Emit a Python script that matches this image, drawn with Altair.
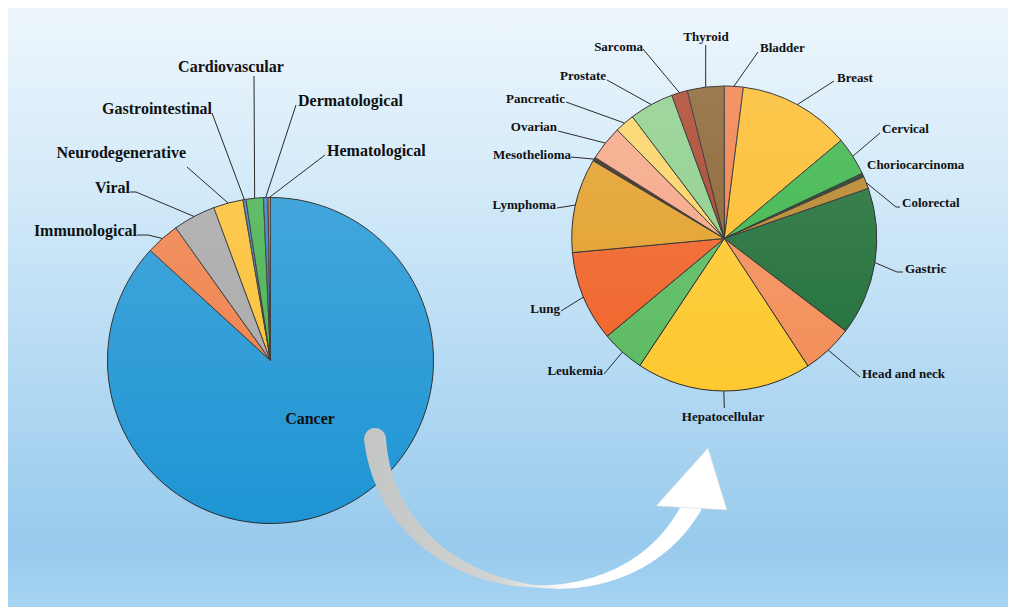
import numpy as np
import pandas as pd
import altair as alt

# ---------------- data ----------------
left_names = ["Cancer", "Immunological", "Viral", "Neurodegenerative", "Gastrointestinal",
              "Cardiovascular", "Dermatological", "Hematological"]
left_values = [86.8, 3.33, 4.22, 2.94, 0.30, 1.72, 0.44, 0.25]
left_colors = ["#1e95d4", "#ef7d45", "#a6a6a6", "#fcbf30", "#3f78c4", "#43b04c", "#2e7ec6", "#d9532b"]

right_names = ["Bladder", "Breast", "Cervical", "Choriocarcinoma", "Colorectal", "Gastric",
               "Head and neck", "Hepatocellular", "Leukemia", "Lung", "Lymphoma", "Mesothelioma",
               "Ovarian", "Pancreatic", "Prostate", "Sarcoma", "Thyroid"]
right_values = [2.0, 11.9, 4.1, 0.4, 1.3, 15.7, 5.4, 18.6, 4.6, 9.6, 10.0, 0.4, 3.7, 2.1, 4.7, 1.7, 3.9]
right_colors = ["#f2804a", "#fdbd2d", "#3db64b", "#1f3d1f", "#b8862c", "#22703a", "#f38f5a",
                "#fec930", "#5cbb62", "#f0642a", "#e3a02b", "#3a2a1a", "#f6a787", "#fcd465",
                "#8ecf8c", "#a9442a", "#8a6230"]

# ---------------- layout ----------------
W, H = 1000, 599
OX, OY = 8, 8  # page margin offset (layout coordinates are page pixels)
LCX, LCY, LR = 270.5, 360.5, 163
RCX, RCY, RR = 724.3, 238.5, 152.5

# label: (text x, text y, align, leader start x, leader start y, elbow x)  -- None = none
left_layout = {
    "Cancer": (310, 419, "center", None, None, None),
    "Immunological": (137, 231, "right", 137, 235, 148),
    "Viral": (130, 188, "right", 130, 192, 136),
    "Neurodegenerative": (186, 153, "right", 187, 167, None),
    "Gastrointestinal": (212, 109, "right", 212, 113, None),
    "Cardiovascular": (231, 67, "center", 254, 76, None),
    "Dermatological": (298, 101, "left", 296, 105, None),
    "Hematological": (327, 151, "left", 325, 155, None),
}
right_layout = {
    "Bladder": (760, 48, "left", 758, 52, None),
    "Breast": (837, 78, "left", 834, 81, None),
    "Cervical": (882, 129, "left", 880, 133, None),
    "Choriocarcinoma": (867, 165, "left", None, None, None),
    "Colorectal": (902, 203, "left", 900, 207, 896),
    "Gastric": (905, 269, "left", 903, 272, 897),
    "Head and neck": (862, 374, "left", 860, 377, None),
    "Hepatocellular": (723, 417, "center", 724.3, 408, None),
    "Leukemia": (603, 371, "right", 604, 374, None),
    "Lung": (560, 309, "right", 561, 311, None),
    "Lymphoma": (556, 205, "right", 557, 208, None),
    "Mesothelioma": (571, 155, "right", 571, 157, None),
    "Ovarian": (557, 127, "right", 558, 131, None),
    "Pancreatic": (565, 99, "right", 566, 102, None),
    "Prostate": (606, 76, "right", 607, 80, None),
    "Sarcoma": (643, 47, "right", 643, 49, None),
    "Thyroid": (706, 37, "center", 705.7, 45, None),
}
FONT = "Liberation Serif"

xs = alt.Scale(domain=[OX, OX + W], nice=False, zero=False)
ys = alt.Scale(domain=[OY, OY + H], nice=False, zero=False, reverse=True)


def edge_points(values, cx, cy, r):
    v = np.asarray(values, dtype=float)
    cum = np.cumsum(v)
    mid = (cum - v / 2) / cum[-1] * 2 * np.pi
    return cx + r * np.sin(mid), cy - r * np.cos(mid)


# ---------------- background ----------------
bg_grad = alt.Gradient(gradient="linear", x1=0, y1=0, x2=0, y2=1, stops=[
    alt.GradientStop(offset=0, color="#eef6fc"),
    alt.GradientStop(offset=0.3, color="#d3eaf9"),
    alt.GradientStop(offset=0.62, color="#b3d9f3"),
    alt.GradientStop(offset=0.9, color="#98caed"),
    alt.GradientStop(offset=1, color="#a8d4f2"),
])
background = alt.Chart(pd.DataFrame({"a": [0]})).mark_rect(fill=bg_grad).encode(
    x=alt.value(0), x2=alt.value(W), y=alt.value(0), y2=alt.value(H))


# ---------------- pies ----------------
def pie(names, values, colors, cx, cy, r):
    df = pd.DataFrame({"name": names, "value": values, "idx": list(range(len(names)))})
    return alt.Chart(df).mark_arc(radius=r, stroke="#2a2a2a", strokeWidth=1).encode(
        theta=alt.Theta("value:Q", stack=True),
        order=alt.Order("idx:Q"),
        color=alt.Color("name:N", scale=alt.Scale(domain=names, range=colors), legend=None),
        x=alt.value(cx - OX), y=alt.value(cy - OY),
    )


shade = alt.Gradient(gradient="linear", x1=0, y1=0, x2=0, y2=1, stops=[
    alt.GradientStop(offset=0, color="rgba(255,255,255,0.16)"),
    alt.GradientStop(offset=1, color="rgba(255,255,255,0)"),
])


def shade_layer(cx, cy, r):
    return alt.Chart(pd.DataFrame({"a": [0]})).mark_arc(
        radius=r, theta=0, theta2=2 * np.pi, fill=shade).encode(
        x=alt.value(cx - OX), y=alt.value(cy - OY))


left_pie = pie(left_names, left_values, left_colors, LCX, LCY, LR)
right_pie = pie(right_names, right_values, right_colors, RCX, RCY, RR)

# ---------------- leaders & labels ----------------
rows_lead, rows_text = [], []
for names, values, lay, cx, cy, r, fs in [
    (left_names, left_values, left_layout, LCX, LCY, LR, 16),
    (right_names, right_values, right_layout, RCX, RCY, RR, 13),
]:
    ex, ey = edge_points(values, cx, cy, r)
    for i, n in enumerate(names):
        tx, ty, al, lx, ly, elb = lay[n]
        rows_text.append({"label": n, "x": tx, "y": ty, "align": al, "fs": fs})
        if lx is not None:
            if elb is not None:
                rows_lead.append({"x": lx, "y": ly, "x2": elb, "y2": ly})
                lx = elb
            rows_lead.append({"x": lx, "y": ly, "x2": float(ex[i]), "y2": float(ey[i])})

lead_df = pd.DataFrame(rows_lead)
leaders = alt.Chart(lead_df).mark_rule(color="#2a2a2a", strokeWidth=1).encode(
    x=alt.X("x:Q", scale=xs, axis=None), y=alt.Y("y:Q", scale=ys, axis=None),
    x2="x2:Q", y2="y2:Q")

text_df = pd.DataFrame(rows_text)
text_layers = []
for al in ["left", "right", "center"]:
    sub = text_df[text_df["align"] == al]
    text_layers.append(
        alt.Chart(sub).mark_text(align=al, baseline="middle", font=FONT, fontWeight="bold",
                                 color="#111111").encode(
            x=alt.X("x:Q", scale=xs, axis=None), y=alt.Y("y:Q", scale=ys, axis=None),
            text="label:N", size=alt.Size("fs:Q", scale=None, legend=None)))

# ---------------- curved arrow ----------------
P0, P1, P2, P3 = np.array([375, 439]), np.array([390, 600]), np.array([620, 640]), np.array([692, 506])
t = np.linspace(0, 1, 80)
pts = ((1 - t) ** 3)[:, None] * P0 + (3 * (1 - t) ** 2 * t)[:, None] * P1 \
    + (3 * (1 - t) * t ** 2)[:, None] * P2 + (t ** 3)[:, None] * P3
wid = np.where(t < 0.55, 2 + 20 * np.clip((0.55 - t) / 0.55, 0, 1) ** 0.8,
               2 + 18 * np.clip((t - 0.55) / 0.45, 0, 1))
arrow_df = pd.DataFrame({"x": pts[:, 0], "y": pts[:, 1], "t": t, "w": wid})
arrow_grad = alt.Gradient(gradient="linear", x1=0, y1=0, x2=1, y2=0, stops=[
    alt.GradientStop(offset=0, color="#c4c6c6"),
    alt.GradientStop(offset=0.4, color="#d2d4d4"),
    alt.GradientStop(offset=0.62, color="#ffffff"),
    alt.GradientStop(offset=1, color="#ffffff"),
])
arrow_body = alt.Chart(arrow_df).mark_trail(color=arrow_grad).encode(
    x=alt.X("x:Q", scale=xs, axis=None), y=alt.Y("y:Q", scale=ys, axis=None),
    size=alt.Size("w:Q", scale=None, legend=None), order=alt.Order("t:Q"))

head_df = pd.DataFrame({"x": [P3[0] - 0.5], "y": [P3[1] - 27]})
arrow_head = alt.Chart(head_df).mark_point(
    shape="M0.465,-0.873L1,0.873L-1,0.76Z", size=5041, filled=True, fill="#ffffff",
    opacity=1, stroke="#d0d8d0", strokeWidth=0.6).encode(
    x=alt.X("x:Q", scale=xs, axis=None), y=alt.Y("y:Q", scale=ys, axis=None))

chart = alt.layer(
    background, left_pie, right_pie, shade_layer(LCX, LCY, LR), shade_layer(RCX, RCY, RR),
    leaders, *text_layers, arrow_body, arrow_head,
).resolve_scale(theta="independent", color="independent").properties(
    width=W, height=H, padding=0
).configure_view(stroke=None)

chart.save("out.html", embed_options={"renderer": "svg", "actions": False})
